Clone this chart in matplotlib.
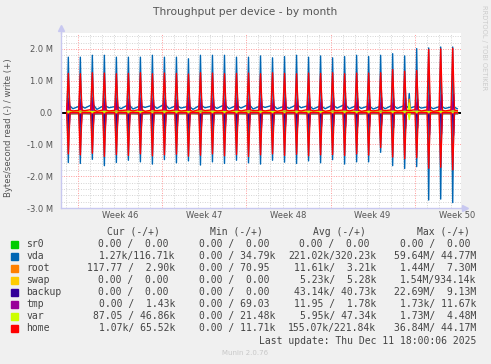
import matplotlib
matplotlib.use("Agg")
import matplotlib.pyplot as plt
from matplotlib.patches import Rectangle

# ---- data (values in MB/s, time in days from Mon Nov 10 00:00) ----
days = list(range(-1, 32))          # one nightly burst per day
spike_at = 0.17                      # ~04:00
mid_at = 0.55

vda_w_peak = [1.74, 1.74, 1.80, 1.80, 1.74, 1.74, 1.74, 1.80, 1.74, 1.74, 1.69,
              1.80, 1.80, 1.80, 1.74, 1.74, 1.78, 1.72, 1.76, 1.80, 1.74, 1.78,
              1.72, 1.76, 1.80, 1.76, 1.80, 1.85, 1.78, 2.01, 2.03, 2.06, 2.06]
vda_r_peak = [-1.57, -1.60, -1.47, -1.67, -1.57, -1.50, -1.55, -1.62, -1.48, -1.58, -1.52,
              -1.65, -1.55, -1.60, -1.50, -1.58, -1.62, -1.50, -1.56, -1.60, -1.52, -1.58,
              -1.48, -1.62, -1.55, -1.55, -1.25, -1.67, -1.76, -1.70, -2.75, -2.72, -2.83]
vda_w_base = [0.22, 0.20, 0.24, 0.21, 0.19, 0.23, 0.20, 0.22, 0.25, 0.21, 0.19,
              0.22, 0.20, 0.23, 0.21, 0.24, 0.20, 0.22, 0.19, 0.23, 0.21, 0.20,
              0.22, 0.24, 0.21, 0.20, 0.19, 0.22, 0.21, 0.20, 0.18, 0.19, 0.18]
vda_w_mid = [0.12, 0.14, 0.10, 0.15, 0.12, 0.11, 0.16, 0.13, 0.12, 0.14, 0.10,
             0.15, 0.13, 0.12, 0.14, 0.11, 0.16, 0.12, 0.13, 0.15, 0.11, 0.12,
             0.14, 0.12, 0.13, 0.11, 0.12, 0.13, 0.14, 0.14, 0.12, 0.13, 0.12]
vda_r_base = [-0.03, -0.02, -0.04, -0.03, -0.02, -0.03, -0.04, -0.02, -0.03, -0.03, -0.02,
              -0.04, -0.03, -0.02, -0.03, -0.04, -0.02, -0.03, -0.03, -0.02, -0.04, -0.03,
              -0.02, -0.03, -0.04, -0.02, -0.03, -0.03, -0.02, -0.04, -0.03, -0.02, -0.03]

home_w_peak = [1.23, 1.22, 1.25, 1.24, 1.22, 1.23, 1.25, 1.22, 1.24, 1.23, 1.21,
               1.25, 1.24, 1.22, 1.23, 1.24, 1.22, 1.25, 1.23, 1.22, 1.24, 1.23,
               1.25, 1.22, 1.24, 1.24, 1.25, 1.35, 1.30, 1.32, 1.98, 2.00, 2.02]
home_r_peak = [-1.30, -1.33, -1.28, -1.38, -1.32, -1.35, -1.30, -1.36, -1.33, -1.31, -1.37,
               -1.34, -1.30, -1.36, -1.32, -1.38, -1.33, -1.30, -1.35, -1.31, -1.36, -1.33,
               -1.32, -1.35, -1.30, -1.34, -1.10, -1.40, -1.45, -1.42, -1.75, -1.72, -1.80]
home_w_base = [0.08, 0.07, 0.09, 0.08, 0.07, 0.08, 0.09, 0.07, 0.08, 0.08, 0.07,
               0.09, 0.08, 0.07, 0.08, 0.09, 0.07, 0.08, 0.08, 0.07, 0.09, 0.08,
               0.07, 0.08, 0.09, 0.07, 0.08, 0.08, 0.07, 0.09, 0.08, 0.07, 0.08]
home_w_mid = [0.05, 0.06, 0.04, 0.05, 0.06, 0.05, 0.04, 0.06, 0.05, 0.05, 0.04,
              0.06, 0.05, 0.04, 0.05, 0.06, 0.05, 0.04, 0.06, 0.05, 0.05, 0.04,
              0.06, 0.05, 0.04, 0.05, 0.06, 0.05, 0.06, 0.05, 0.04, 0.05, 0.06]

backup_w_peak = [0.45, 0.42, 0.47, 0.44, 0.45, 0.43, 0.46, 0.44, 0.45, 0.42, 0.47,
                 0.44, 0.45, 0.43, 0.46, 0.44, 0.45, 0.42, 0.47, 0.44, 0.45, 0.43,
                 0.46, 0.44, 0.45, 0.42, 0.47, 0.44, 0.45, 0.43, 0.55, 0.56, 0.58]
backup_r_peak = [-0.47, -0.45, -0.44, -0.48, -0.46, -0.45, -0.47, -0.44, -0.46, -0.45, -0.48,
                 -0.46, -0.44, -0.47, -0.45, -0.46, -0.48, -0.44, -0.45, -0.47, -0.46, -0.45,
                 -0.44, -0.47, -0.46, -0.45, -0.40, -0.48, -0.50, -0.49, -0.70, -0.68, -0.72]
tmp_w_peak = [0.30, 0.28, 0.32, 0.29, 0.31, 0.30, 0.28, 0.32, 0.30, 0.29, 0.31,
              0.30, 0.28, 0.32, 0.29, 0.31, 0.30, 0.28, 0.32, 0.30, 0.29, 0.31,
              0.30, 0.28, 0.32, 0.29, 0.31, 0.30, 0.28, 0.32, 0.35, 0.36, 0.34]
swap_w_peak = [0.06, 0.05, 0.07, 0.06, 0.05, 0.06, 0.07, 0.05, 0.06, 0.06, 0.05,
               0.07, 0.06, 0.05, 0.06, 0.07, 0.05, 0.06, 0.06, 0.05, 0.07, 0.06,
               0.05, 0.06, 0.07, 0.05, 0.06, 0.06, 0.05, 0.07, 0.06, 0.05, 0.06]
root_w_base = [0.03, 0.02, 0.03, 0.04, 0.02, 0.03, 0.03, 0.02, 0.04, 0.03, 0.02,
               0.03, 0.03, 0.02, 0.04, 0.03, 0.02, 0.03, 0.03, 0.02, 0.04, 0.03,
               0.02, 0.03, 0.03, 0.02, 0.04, 0.03, 0.03, 0.03, 0.02, 0.03, 0.03]
var_w_base = [0.04, 0.05, 0.03, 0.04, 0.05, 0.04, 0.03, 0.05, 0.04, 0.04, 0.03,
              0.05, 0.04, 0.03, 0.04, 0.05, 0.04, 0.03, 0.05, 0.04, 0.04, 0.03,
              0.05, 0.04, 0.03, 0.04, 0.05, 0.04, 0.04, 0.04, 0.03, 0.04, 0.05]
zeros = [0.0] * len(days)

# short burst in week 49/50 (Dec 7 ~13:00)
event_t = 27.55
event_w = {"vda": 0.60, "root": 0.42, "var": 0.30, "swap": 0.20}
event_r = {"var": -0.22, "vda": -0.10}

# legend table
names = ["sr0", "vda", "root", "swap", "backup", "tmp", "var", "home"]
colors = ["#00CC00", "#0066B3", "#FF8000", "#FFCC00", "#330099", "#990099", "#CCFF00", "#FF0000"]
cur = ["0.00 /  0.00", "1.27k/116.71k", "117.77 /  2.90k", "0.00 /  0.00",
       "0.00 /  0.00", "0.00 /  1.43k", "87.05 / 46.86k", "1.07k/ 65.52k"]
mins = ["0.00 /  0.00", "0.00 / 34.79k", "0.00 / 70.95", "0.00 /  0.00",
        "0.00 /  0.00", "0.00 / 69.03", "0.00 / 21.48k", "0.00 / 11.71k"]
avgs = ["0.00 /  0.00", "221.02k/320.23k", "11.61k/  3.21k", "5.23k/  5.28k",
        "43.14k/ 40.73k", "11.95 /  1.78k", "5.95k/ 47.34k", "155.07k/221.84k"]
maxs = ["0.00 /  0.00", "59.64M/ 44.77M", "1.44M/  7.30M", "1.54M/934.14k",
        "22.69M/  9.13M", "1.73k/ 11.67k", "1.73M/  4.48M", "36.84M/ 44.17M"]
week_labels = ["Week 46", "Week 47", "Week 48", "Week 49", "Week 50"]
week_starts = [0, 7, 14, 21, 28]
ytick_vals = [-3, -2, -1, 0, 1, 2]
ytick_labels = ["-3.0 M", "-2.0 M", "-1.0 M", "0.0", "1.0 M", "2.0 M"]


def path(peak, base, mid, half=1 / 12, shift=0.0, ev=0.0):
    t, v = [], []
    for d, p, b, m in zip(days, peak, base, mid):
        s = d + spike_at + shift
        t += [s - half, s, s + half, d + mid_at]
        v += [b, p, b, m]
        if ev and d == int(event_t):
            t += [event_t - 1 / 12, event_t, event_t + 1 / 12]
            v += [m, ev, m]
    return t, v


W, H = 491, 364
fig = plt.figure(figsize=(W / 100, H / 100), dpi=100, facecolor="#F0F0F0")
ax = fig.add_axes([61 / W, 1 - 208 / H, 400 / W, 175 / H])
ax.set_facecolor("white")
ax.set_xlim(-1.44, 31.86)
ax.set_ylim(-3.0, 2.5)

# grid
for d in range(-1, 32):
    major = d in week_starts
    ax.axvline(d, color="#FF9999" if major else "#D4D4D4", lw=0.7,
               ls=(0, (1, 1.5)), zorder=0)
for i in range(-15, 13):
    y = i * 0.2
    major = i % 5 == 0
    ax.axhline(y, color="#FF9999" if major else "#D4D4D4", lw=0.7,
               ls=(0, (1, 1.5)), zorder=0)

lw = 1.0
series = [
    (path(zeros, zeros, zeros), path(zeros, zeros, zeros)),
    (path(vda_w_peak, vda_w_base, vda_w_mid, ev=event_w["vda"]),
     path(vda_r_peak, vda_r_base, vda_r_base, ev=event_r["vda"])),
    (path(root_w_base, root_w_base, root_w_base, ev=event_w["root"]), path(zeros, zeros, zeros)),
    (path(swap_w_peak, zeros, zeros, ev=event_w["swap"]), path(zeros, zeros, zeros)),
    (path(backup_w_peak, zeros, zeros, shift=0.07), path(backup_r_peak, zeros, zeros, shift=0.07)),
    (path(tmp_w_peak, zeros, zeros, shift=-0.06), path(zeros, zeros, zeros)),
    (path(var_w_base, var_w_base, var_w_base, ev=event_w["var"]),
     path(zeros, zeros, zeros, ev=event_r["var"])),
    (path(home_w_peak, home_w_base, home_w_mid, half=0.14),
     path(home_r_peak, zeros, zeros, half=0.14)),
]
ax.axhline(0, color="black", lw=1.4, zorder=2)
for k, ((tw, vw), (tr, vr)) in enumerate(series):
    c = colors[k]
    ax.plot(tr, vr, color=c, lw=lw, zorder=3 + k)
    ax.plot(tw, vw, color=c, lw=lw, zorder=3 + k)

# axes styling
for s in ["top", "right"]:
    ax.spines[s].set_visible(False)
for s in ["left", "bottom"]:
    ax.spines[s].set_color("#C8C8F0")
    ax.spines[s].set_linewidth(1)
ax.plot([0, 0], [1, 1.03], color="#C8C8F0", lw=1, transform=ax.transAxes, clip_on=False)
ax.plot([0], [1.03], marker="^", ms=5, color="#C8C8F0", transform=ax.transAxes, clip_on=False)
ax.plot([1, 1.01], [0, 0], color="#C8C8F0", lw=1, transform=ax.transAxes, clip_on=False)
ax.plot([1.01], [0], marker=">", ms=5, color="#C8C8F0", transform=ax.transAxes, clip_on=False)

ax.set_xticks([w + 3.5 for w in week_starts])
ax.set_xticklabels(week_labels)
ax.set_yticks(ytick_vals)
ax.set_yticklabels(ytick_labels)
ax.tick_params(axis="both", length=0, labelsize=6, colors="#555555")
ax.tick_params(axis="y", pad=6)
ax.tick_params(axis="x", pad=2)

# texts
fig.text(245.5 / W, 1 - 12 / H, "Throughput per device - by month", ha="center", va="center",
         fontsize=7.7, color="#555555")
fig.text(8.5 / W, 1 - 128 / H, "Bytes/second read (-) / write (+)", rotation=90,
         ha="center", va="center", fontsize=6.1, color="#555555")
fig.text(484 / W, 1 - 5 / H, "RRDTOOL / TOBI OETIKER", rotation=270, ha="center", va="top",
         fontsize=4.8, color="#CCCCCC")

mono = dict(family="DejaVu Sans Mono", fontsize=7, color="#444444", va="center")
heads = [("Cur (-/+)", 106.7), ("Min (-/+)", 210), ("Avg (-/+)", 313.3), ("Max (-/+)", 416.7)]
for txt, x in heads:
    fig.text(x / W, 1 - 232 / H, txt, ha="left", **mono)

col_ends = [175, 275.7, 376, 476.7]
cw = 6.3
for i, name in enumerate(names):
    y = 244.3 + 12 * i
    fig.patches.append(Rectangle((11 / W, 1 - (y + 3.5) / H), 7 / W, 7 / H,
                                 transform=fig.transFigure, color=colors[i]))
    fig.text(26.3 / W, 1 - y / H, name, ha="left", **mono)
    for vals, xe in zip([cur, mins, avgs, maxs], col_ends):
        v = vals[i]
        x = xe if v[-1] in "kM" else xe - cw
        fig.text(x / W, 1 - y / H, v, ha="right", **mono)

fig.text(476.7 / W, 1 - 340.7 / H, "Last update: Thu Dec 11 18:00:06 2025", ha="right", **mono)
fig.text(245.5 / W, 1 - 352.7 / H, "Munin 2.0.76", ha="center", va="center",
         fontsize=5, color="#C8C8C8")

fig.savefig("out.png", dpi=100, facecolor=fig.get_facecolor())
